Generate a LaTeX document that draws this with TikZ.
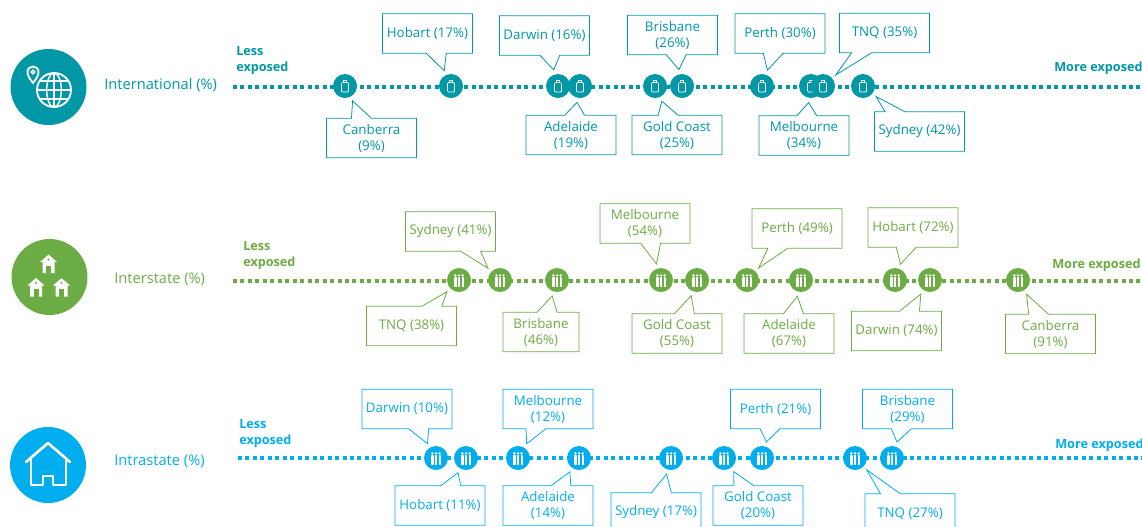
\documentclass[tikz,border=0pt]{standalone}
\usepackage{fontspec}
\setmainfont{Open Sans}
\usetikzlibrary{shapes.callouts}
\definecolor{intl}{RGB}{0,151,167}
\definecolor{inter}{RGB}{108,172,68}
\definecolor{intra}{RGB}{0,174,239}

\begin{document}
\begin{tikzpicture}[x=0.75pt,y=-0.75pt,
  badge/.style={circle,fill=#1,minimum size=57pt,inner sep=0pt},
  rowlab/.style={text=#1,anchor=west,inner sep=0pt,font=\fontsize{11}{13}\selectfont},
  ends/.style={text=#1,anchor=west,inner sep=0pt,align=left,font=\fontsize{9.5}{12}\selectfont\bfseries},
  track/.style={draw=#1,line width=3pt,dash pattern=on 3pt off 2.6pt},
  bead/.style={circle,fill=#1,minimum size=18pt,inner sep=0pt},
  balloon/.style={rectangle callout,draw=#1,text=#1,fill=white,line width=0.6pt,
    minimum width=67.5pt,minimum height=29.5pt,inner sep=1pt,align=center,
    font=\fontsize{10}{12}\selectfont,callout pointer width=15pt,callout pointer shorten=12.5pt},
  pics/bag/.style={code={
    \draw[white,line width=0.6pt,rounded corners=0.8pt] (-3.5,-3.5) rectangle (3.5,6);
    \draw[white,line width=0.6pt] (-1.5,-3.5) -- (-1.5,-6) -- (1.5,-6) -- (1.5,-3.5);
  }},
  pics/crowd/.style={code={
    \foreach \i in {-3.6,0,3.6}{
      \fill[white] (\i,-4.6) circle (1pt);
      \fill[white] (\i-1.1,-2.8) rectangle (\i+1.1,6.5);
    }
  }},
  pics/hut/.style={code={
    \fill[white] (0,-9.5) -- (8.5,-2) -- (6,-2) -- (6,9) -- (-6,9) -- (-6,-2) -- (-8.5,-2) -- cycle;
    \fill[#1] (-2.5,1.5) rectangle (2.5,9);
    \fill[#1] (0,-4.5) circle (0.9pt);
  }}
]
\useasboundingbox (0,0) rectangle (1142,526);
%\draw[help lines] (0,0) grid (1142,526);

% International
\node[badge=intl] (aBadge) at (48.5,87) {};
\draw[white,line width=1.4pt] (54,90) circle (12.75pt);
\draw[white,line width=1.1pt] (54,90) ellipse [x radius=5.5pt, y radius=12.75pt];
\draw[white,line width=1.1pt] (54,73) -- (54,107) (37,90) -- (71,90) (39.6,81) -- (68.4,81) (39.6,99) -- (68.4,99);
\filldraw[fill=intl,draw=white,line width=1.4pt] (33,83) .. controls (30,79) and (27.5,76) .. (27.5,72)
  .. controls (27.5,68.5) and (30,66.5) .. (33,66.5) .. controls (36,66.5) and (38.5,68.5) .. (38.5,72)
  .. controls (38.5,76) and (36,79) .. (33,83) -- cycle;
\draw[white,line width=1pt] (33,72) circle (1.4pt);
\node[rowlab=intl] (aLab) at (104,85) {International (\%)};
\node[ends=intl] (aLess) at (236,60) {Less\\exposed};
\node[ends=intl] (aMore) at (1054,68) {More exposed};
\coordinate (aL) at (233,87);
\coordinate (aR) at (1142,87);
\draw[track=intl] (aL) -- (aR);
\foreach \n/\x in {Can/345,Hob/451,Dar/558,Ade/580,Gol/655,Bri/682,Per/762,Mel/811,Tnq/823,Syd/863}{
  \node[bead=intl] (a\n) at (\x,86) {};
  \pic at (a\n) {bag};
}
\node[balloon=intl,callout absolute pointer={(aHob)}] (aHobC) at (427.5,33.5) {Hobart (17\%)};
\node[balloon=intl,callout absolute pointer={(aCan)}] (aCanC) at (371.5,138) {Canberra\\(9\%)};
\node[balloon=intl,callout absolute pointer={(aDar)}] (aDarC) at (544.5,35.5) {Darwin (16\%)};
\node[balloon=intl,callout absolute pointer={(aBri)}] (aBriC) at (672.5,35) {Brisbane\\(26\%)};
\node[balloon=intl,callout absolute pointer={(aPer)}] (aPerC) at (780,33.5) {Perth (30\%)};
\node[balloon=intl,callout absolute pointer={(aTnq)}] (aTnqC) at (884.5,33) {TNQ (35\%)};
\node[balloon=intl,callout absolute pointer={(aAde)}] (aAdeC) at (571,135) {Adelaide\\(19\%)};
\node[balloon=intl,callout absolute pointer={(aGol)}] (aGolC) at (677,135) {Gold Coast\\(25\%)};
\node[balloon=intl,callout absolute pointer={(aMel)}] (aMelC) at (804,135.5) {Melbourne\\(34\%)};
\node[balloon=intl,callout absolute pointer={(aSyd)}] (aSydC) at (919.5,131.5) {Sydney (42\%)};

% Interstate
\node[badge=inter] (bBadge) at (49.5,277) {};
\pic at (48.5,264) {hut=inter};
\pic at (36,287.5) {hut=inter};
\pic at (61.5,287.5) {hut=inter};
\node[rowlab=inter] (bLab) at (114,279) {Interstate (\%)};
\node[ends=inter] (bLess) at (243,255) {Less\\exposed};
\node[ends=inter] (bMore) at (1052,265) {More exposed};
\coordinate (bL) at (233,281);
\coordinate (bR) at (1142,281);
\draw[track=inter] (bL) -- (bR);
\foreach \n/\x in {Tnq/459,Syd/500,Bri/557,Mel/661,Gol/697,Per/747,Ade/801,Hob/895,Dar/930,Can/1018}{
  \node[bead=inter] (b\n) at (\x,280) {};
  \pic at (b\n) {crowd};
}
\node[balloon=inter,callout absolute pointer={(bSyd)}] (bSydC) at (450.5,231.5) {Sydney (41\%)};
\node[balloon=inter,callout absolute pointer={(bTnq)}] (bTnqC) at (411.5,326) {TNQ (38\%)};
\node[balloon=inter,minimum width=57pt,callout absolute pointer={(bBri)}] (bBriC) at (541,332) {Brisbane\\(46\%)};
\node[balloon=inter,callout absolute pointer={(bMel)}] (bMelC) at (645,223.5) {Melbourne\\(54\%)};
\node[balloon=inter,callout absolute pointer={(bGol)}] (bGolC) at (677,333.5) {Gold Coast\\(55\%)};
\node[balloon=inter,callout absolute pointer={(bPer)}] (bPerC) at (797,228.5) {Perth (49\%)};
\node[balloon=inter,callout absolute pointer={(bAde)}] (bAdeC) at (789,333.5) {Adelaide\\(67\%)};
\node[balloon=inter,callout absolute pointer={(bHob)}] (bHobC) at (913,227.5) {Hobart (72\%)};
\node[balloon=inter,callout absolute pointer={(bDar)}] (bDarC) at (896.5,331) {Darwin (74\%)};
\node[balloon=inter,callout absolute pointer={(bCan)}] (bCanC) at (1050.5,334) {Canberra\\(91\%)};

% Intrastate
\node[badge=intra] (cBadge) at (48,465) {};
\draw[white,line width=2pt,line join=round,line cap=round] (26,462) -- (48,443) -- (70,462);
\draw[white,line width=2pt,line join=round] (31,458) -- (31,485) -- (43,485) -- (43,476) -- (53,476) -- (53,485) -- (66,485) -- (66,458);
\node[rowlab=intra] (cLab) at (114,461) {Intrastate (\%)};
\node[ends=intra] (cLess) at (239,433) {Less\\exposed};
\node[ends=intra] (cMore) at (1055,445) {More exposed};
\coordinate (cL) at (238,458);
\coordinate (cR) at (1142,458);
\draw[track=intra] (cL) -- (cR);
\foreach \n/\x in {Dar/436,Hob/466,Mel/518,Ade/579,Syd/671,Gol/724,Per/762,Tnq/855,Bri/892}{
  \node[bead=intra] (c\n) at (\x,458) {};
  \pic at (c\n) {crowd};
}
\node[balloon=intra,callout absolute pointer={(cDar)}] (cDarC) at (407,409) {Darwin (10\%)};
\node[balloon=intra,callout absolute pointer={(cHob)}] (cHobC) at (440,505.5) {Hobart (11\%)};
\node[balloon=intra,callout absolute pointer={(cMel)}] (cMelC) at (548,409) {Melbourne\\(12\%)};
\node[balloon=intra,callout absolute pointer={(cAde)}] (cAdeC) at (548,505.5) {Adelaide\\(14\%)};
\node[balloon=intra,callout absolute pointer={(cSyd)}] (cSydC) at (656,512.5) {Sydney (17\%)};
\node[balloon=intra,callout absolute pointer={(cGol)}] (cGolC) at (758,505.5) {Gold Coast\\(20\%)};
\node[balloon=intra,callout absolute pointer={(cPer)}] (cPerC) at (775.5,409) {Perth (21\%)};
\node[balloon=intra,callout absolute pointer={(cBri)}] (cBriC) at (907.5,409) {Brisbane\\(29\%)};
\node[balloon=intra,callout absolute pointer={(cTnq)}] (cTnqC) at (910,513.5) {TNQ (27\%)};
\end{tikzpicture}
\end{document}
